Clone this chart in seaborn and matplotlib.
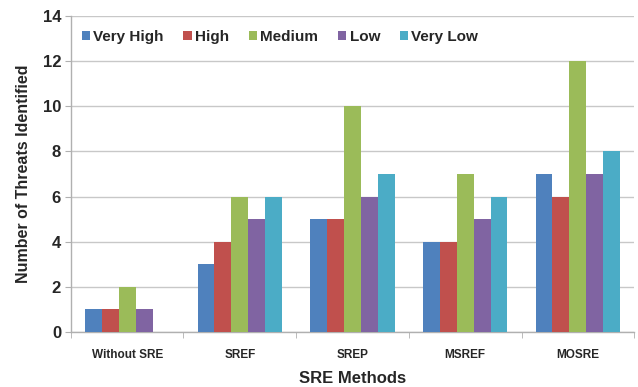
import pandas as pd
import seaborn as sns
from matplotlib import pyplot as plt
from matplotlib.ticker import FixedLocator

methods = ['Without SRE', 'SREF', 'SREP', 'MSREF', 'MOSRE']
levels = ['Very High', 'High', 'Medium', 'Low', 'Very Low']
very_high = [1, 3, 5, 4, 7]
high = [1, 4, 5, 4, 6]
medium = [2, 6, 10, 7, 12]
low = [1, 5, 6, 5, 7]
very_low = [0, 6, 7, 6, 8]
colors = ['#4F81BD', '#C0504D', '#9BBB59', '#8064A2', '#4BACC6']

rows = []
for lev, vals in zip(levels, [very_high, high, medium, low, very_low]):
    for m, v in zip(methods, vals):
        rows.append({'method': m, 'level': lev, 'count': v})
d = pd.DataFrame(rows)

sns.set_style('white')
plt.rcParams['font.family'] = ['Liberation Sans', 'DejaVu Sans']

fig = plt.figure(figsize=(6.38, 3.87), dpi=100)
ax = fig.add_axes([0.111, 0.142, 0.883, 0.817])
sns.barplot(data=d, x='method', y='count', hue='level', palette=colors,
            width=0.75, saturation=1, errorbar=None, ax=ax, zorder=3, linewidth=0)

ax.set_ylim(0, 14)
ax.set_xlim(-0.5, 4.5)
ax.set_yticks(range(0, 15, 2))
ax.yaxis.grid(True, color='#c8c8c8', linewidth=1, zorder=0)
ax.set_axisbelow(True)
for s in ['top', 'right']:
    ax.spines[s].set_visible(False)
for s in ['left', 'bottom']:
    ax.spines[s].set_color('#b0b0b0')
    ax.spines[s].set_linewidth(1)

ax.tick_params(axis='y', which='major', left=True, length=4, color='#b0b0b0',
               labelsize=12, pad=3)
ax.tick_params(axis='x', which='major', bottom=False, labelsize=8.5, pad=9)
ax.xaxis.set_minor_locator(FixedLocator([-0.5, 0.5, 1.5, 2.5, 3.5, 4.5]))
ax.tick_params(axis='x', which='minor', bottom=True, length=4, color='#b0b0b0')
for lab in ax.get_yticklabels() + ax.get_xticklabels():
    lab.set_fontweight('bold')

ax.set_xlabel('SRE Methods', fontsize=12, fontweight='bold', labelpad=7)
ax.set_ylabel('Number of Threats Identified', fontsize=11.5, fontweight='bold', labelpad=8)

leg = ax.legend(loc='upper left', bbox_to_anchor=(0.0, 0.99), ncol=5, frameon=False,
                prop={'weight': 'bold', 'size': 11}, handlelength=0.55, handleheight=0.55,
                handletextpad=0.2, columnspacing=1.3, borderaxespad=0.3)

fig.savefig('out.png', dpi=100)
